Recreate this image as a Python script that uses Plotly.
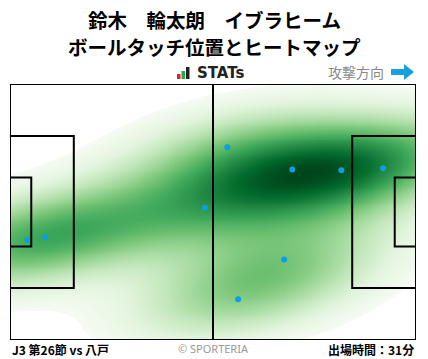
import numpy as np
import plotly.graph_objects as go

# Ball touch positions (meters, pitch 105 x 68, attacking to the right)
touch_x = [50.4, 56.2, 73.0, 85.7, 96.5, 4.5, 9.1, 70.9, 59.0]
touch_y = [35.1, 51.2, 45.3, 45.1, 45.6, 26.5, 27.3, 21.4, 10.8]

title_line1 = "鈴木　輪太朗　イブラヒーム"
title_line2 = "ボールタッチ位置とヒートマップ"
footer_left = "J3 第26節 vs 八戸"
footer_right = "出場時間：31分"

PL, PW = 105.0, 68.0

# Gaussian KDE (Scott's rule, full covariance) of the touch positions
pts = np.vstack([touch_x, touch_y])
n = pts.shape[1]
factor = n ** (-1.0 / 6)
cov = np.cov(pts) * factor ** 2
inv = np.linalg.inv(cov)

def kde(XX, YY):
    Z = np.zeros_like(XX)
    for i in range(n):
        dx = XX - pts[0, i]
        dy = YY - pts[1, i]
        q = inv[0, 0] * dx * dx + 2 * inv[0, 1] * dx * dy + inv[1, 1] * dy * dy
        Z += np.exp(-0.5 * q)
    return Z

# threshold: lowest 5% of probability mass is left blank
bx = np.linspace(-80, 185, 400)
by = np.linspace(-60, 128, 300)
BX, BY = np.meshgrid(bx, by)
BZ = kde(BX, BY).ravel()
order = np.sort(BZ)
cum = np.cumsum(order)
cum /= cum[-1]
thresh = order[np.searchsorted(cum, 0.05)]

gx = np.linspace(0, PL, 211)
gy = np.linspace(0, PW, 137)
XX, YY = np.meshgrid(gx, gy)
Z = kde(XX, YY)
Zn = (Z - thresh) / (BZ.max() - thresh)
Zn = np.clip(Zn, -0.02, 1)

greens_stops = [
    (0.0, "rgb(245,251,242)"),
    (0.125, "rgb(226,244,221)"),
    (0.25, "rgb(195,231,188)"),
    (0.375, "rgb(155,214,150)"),
    (0.5, "rgb(110,192,113)"),
    (0.625, "rgb(62,168,90)"),
    (0.75, "rgb(33,136,67)"),
    (0.875, "rgb(0,106,43)"),
    (1.0, "rgb(0,68,27)"),
]
cs = [[0.0, "rgb(255,255,255)"], [0.018, "rgb(255,255,255)"]]
for v, c in greens_stops:
    cs.append([(v + 0.02) / 1.02, c])

fig = go.Figure()
fig.add_trace(go.Heatmap(x=gx, y=gy, z=Zn, colorscale=cs, zmin=-0.02, zmax=1,
                         zsmooth="best", showscale=False, hoverinfo="skip"))
fig.add_trace(go.Scatter(x=touch_x, y=touch_y, mode="markers",
                         marker=dict(color="#0a9fe3", size=6), hoverinfo="skip"))

line = dict(color="black", width=2)
shapes = [
    dict(type="rect", x0=0, x1=PL, y0=0, y1=PW, line=line),
    dict(type="line", x0=PL / 2, x1=PL / 2, y0=0, y1=PW, line=line),
    dict(type="rect", x0=0, x1=16.5, y0=PW / 2 - 20.16, y1=PW / 2 + 20.16, line=line),
    dict(type="rect", x0=0, x1=5.5, y0=PW / 2 - 9.16, y1=PW / 2 + 9.16, line=line),
    dict(type="rect", x0=PL - 16.5, x1=PL, y0=PW / 2 - 20.16, y1=PW / 2 + 20.16, line=line),
    dict(type="rect", x0=PL - 5.5, x1=PL, y0=PW / 2 - 9.16, y1=PW / 2 + 9.16, line=line),
]
for s in shapes:
    s["xref"] = "x"
    s["yref"] = "y"
    s["layer"] = "above"

W, H = 428, 359
ML, MR, MT, MB = 10, 12, 84, 19
PWpx = W - ML - MR
PHpx = H - MT - MB

def px(x):
    return (x - ML) / PWpx

def py(y):
    return (H - MB - y) / PHpx

# STATs logo bars
bar_cols = ["#e0262b", "#2aa84a", "#222222"]
bar_specs = [(177, 180.5, 74), (181.5, 185, 71), (186, 189.5, 67)]
for c, (x0, x1, ytop) in zip(bar_cols, bar_specs):
    shapes.append(dict(type="rect", xref="paper", yref="paper",
                       x0=px(x0), x1=px(x1), y0=py(79), y1=py(ytop),
                       fillcolor=c, line=dict(width=0)))
# direction arrow
path = (f"M {px(391)} {py(69)} L {px(404)} {py(69)} L {px(404)} {py(64)} "
        f"L {px(414)} {py(72)} L {px(404)} {py(80)} L {px(404)} {py(75)} L {px(391)} {py(75)} Z")
shapes.append(dict(type="path", xref="paper", yref="paper", path=path,
                   fillcolor="#1a9fe0", line=dict(width=0)))

font_jp = "Noto Sans CJK JP"
annotations = [
    dict(x=px(214), y=py(19.5), text=f"<b>{title_line1}</b>", showarrow=False,
         font=dict(size=19.5, color="black", family=font_jp),
         xanchor="center", yanchor="middle"),
    dict(x=px(214), y=py(46.5), text=f"<b>{title_line2}</b>", showarrow=False,
         font=dict(size=19.5, color="black", family=font_jp),
         xanchor="center", yanchor="middle"),
    dict(x=px(195), y=py(73), text="<b>STATs</b>", showarrow=False,
         font=dict(size=15, color="#222222", family="DejaVu Sans"), xanchor="left", yanchor="middle"),
    dict(x=px(386), y=py(72), text="攻撃方向", showarrow=False,
         font=dict(size=14, color="#888888", family=font_jp), xanchor="right", yanchor="middle"),
    dict(x=px(10), y=py(349), text=f"<b>{footer_left}</b>", showarrow=False,
         font=dict(size=12, color="black", family=font_jp), xanchor="left", yanchor="middle"),
    dict(x=px(213), y=py(348), text="© SPORTERIA", showarrow=False,
         font=dict(size=11, color="#999999", family="Noto Sans"), xanchor="center", yanchor="middle"),
    dict(x=px(416), y=py(349), text=f"<b>{footer_right}</b>", showarrow=False,
         font=dict(size=12, color="black", family=font_jp), xanchor="right", yanchor="middle"),
]
for a in annotations:
    a["xref"] = "paper"
    a["yref"] = "paper"

fig.update_layout(
    width=W, height=H,
    margin=dict(l=ML, r=MR, t=MT, b=MB),
    paper_bgcolor="white", plot_bgcolor="white",
    showlegend=False,
    xaxis=dict(range=[0, PL], visible=False, fixedrange=True),
    yaxis=dict(range=[0, PW], visible=False, fixedrange=True),
    shapes=shapes,
    annotations=annotations,
)
fig.write_html("out.html")
